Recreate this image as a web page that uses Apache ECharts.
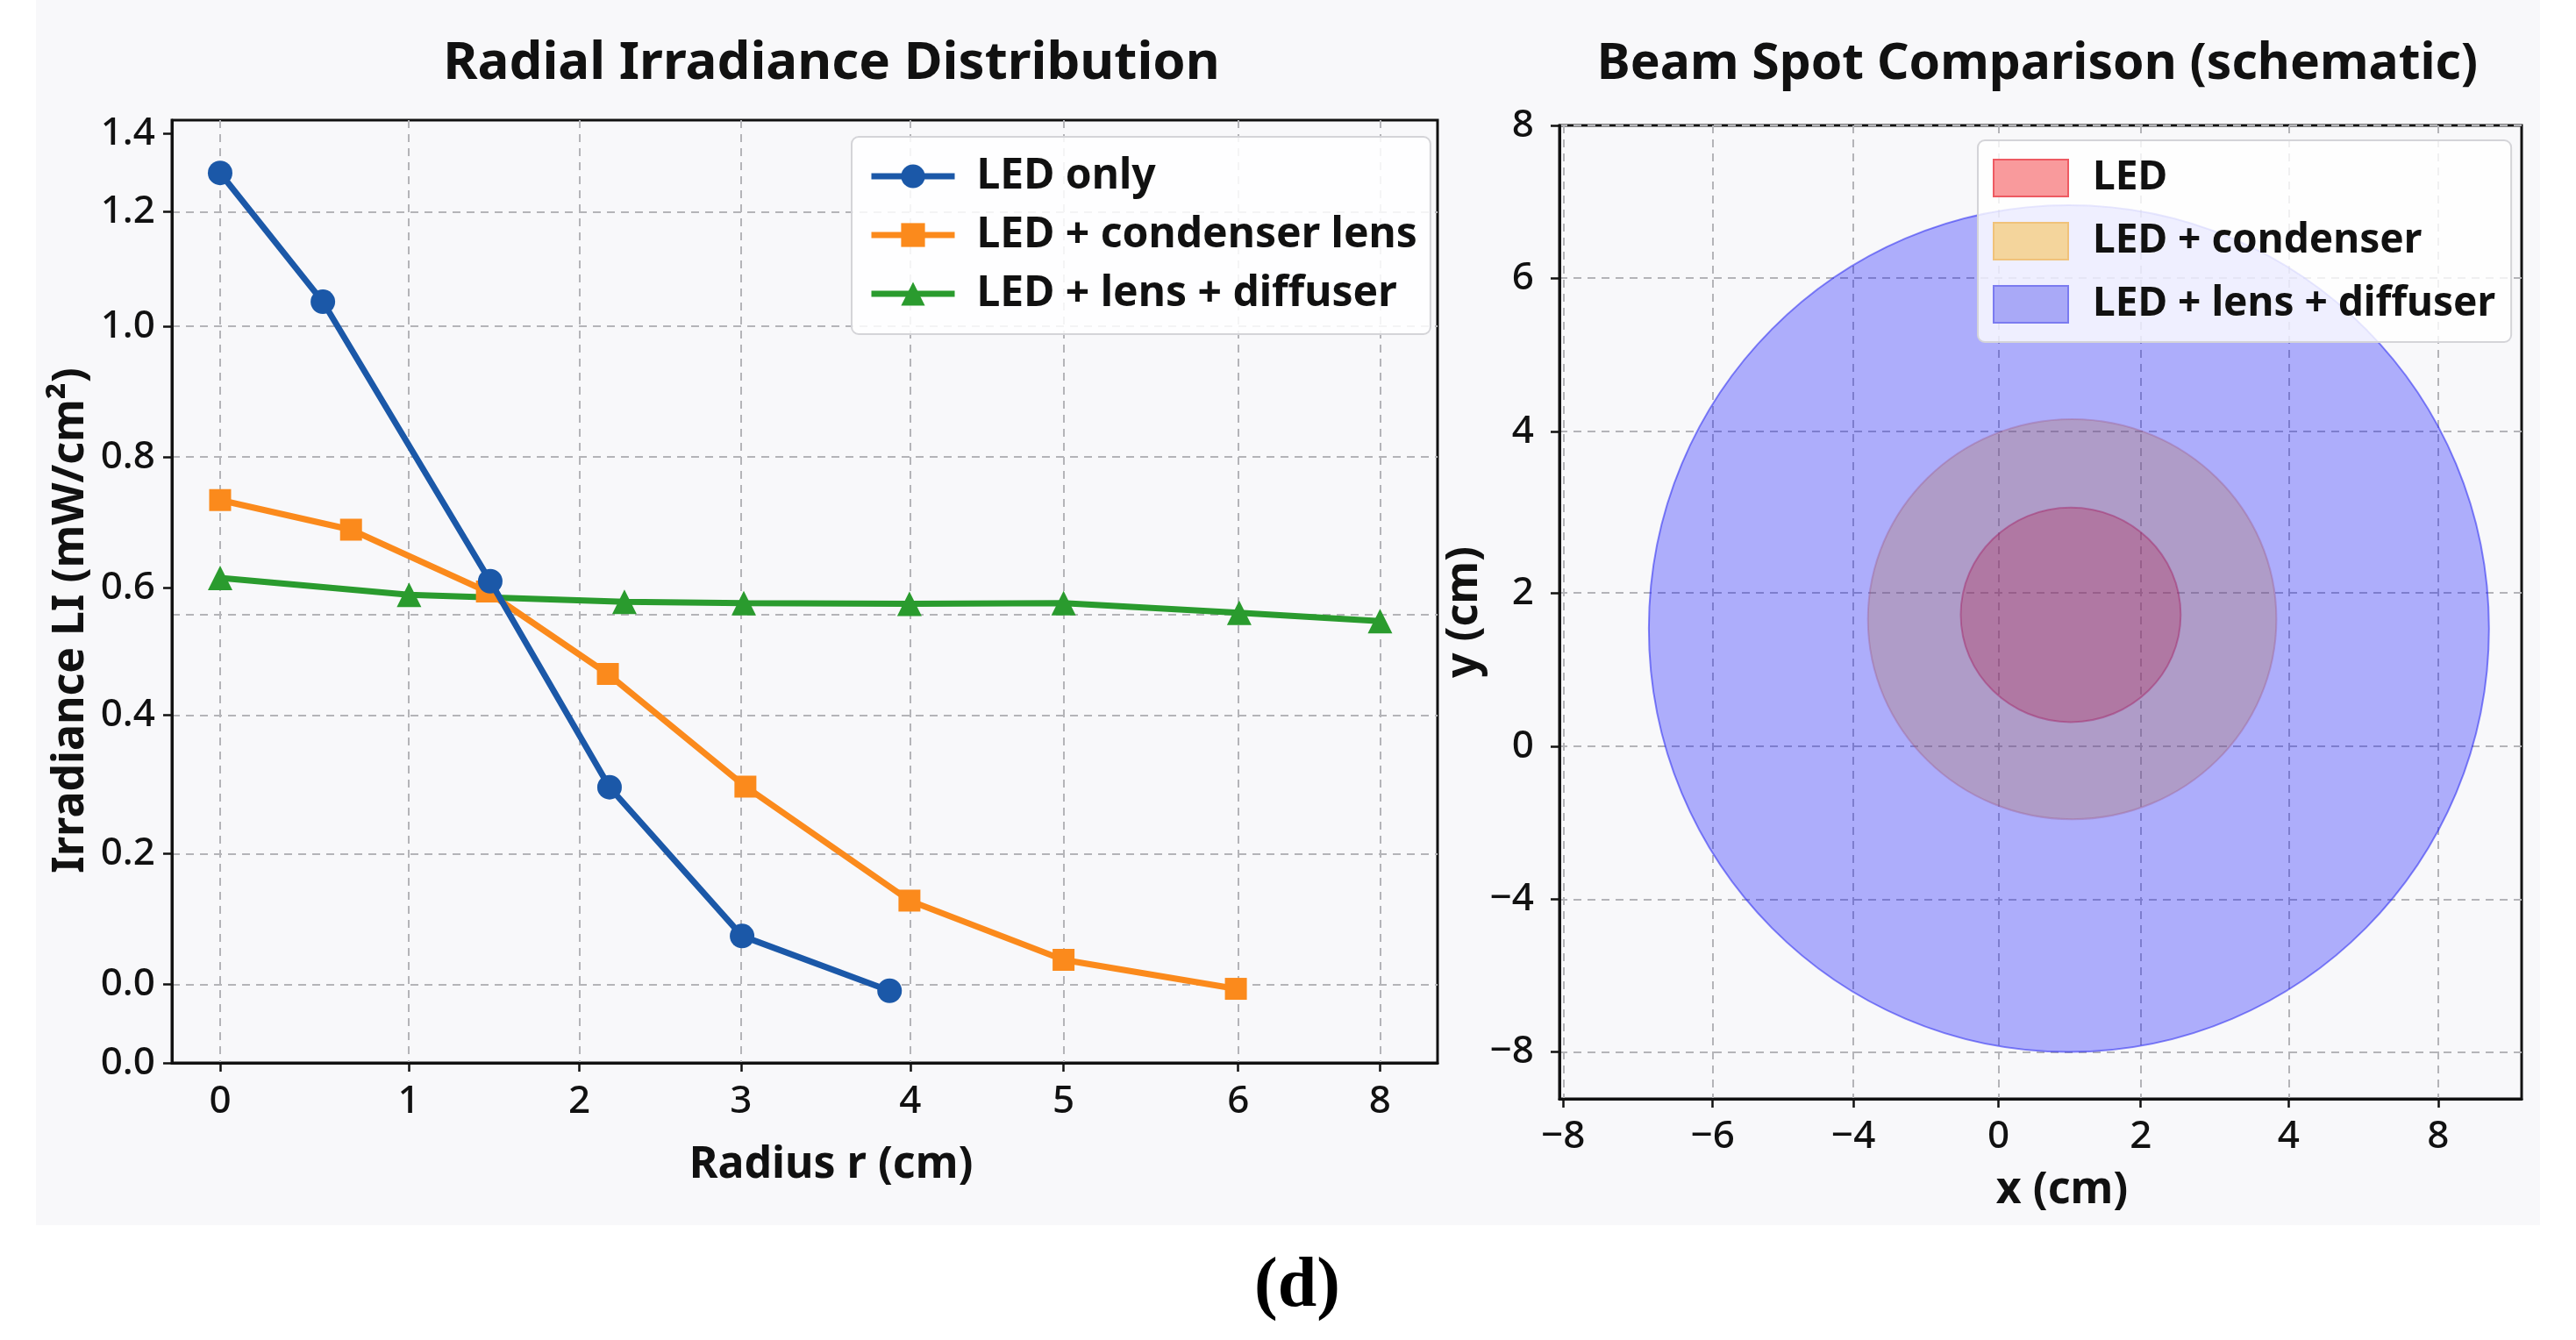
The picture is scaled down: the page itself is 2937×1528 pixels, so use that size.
<!DOCTYPE html>
<html>
<head>
<meta charset="utf-8">
<title>Radial irradiance / beam spot</title>
<script src="https://cdn.jsdelivr.net/npm/echarts@6.0.0/dist/echarts.min.js"></script>
<style>
  html, body { margin: 0; padding: 0; background: #ffffff; }
  #wrap { position: relative; width: 2937px; height: 1528px; }
  #paper { position: absolute; left: 41px; top: 0; width: 2855px; height: 1397px; background: #f8f8fa; }
  #main { position: absolute; left: 0; top: 0; width: 2937px; height: 1528px; }
</style>
</head>
<body>
<div id="wrap">
  <div id="paper"></div>
  <div id="main"></div>
</div>
<script>
// left panel: radial irradiance, values read in axis position units
// (the printed tick labels are not evenly spaced, so ticks sit at their own positions)
var radTickPos = [0, 1.138, 2.168, 3.143, 4.165, 5.09, 6.144, 7.0];
var radTickText = ['0', '1', '2', '3', '4', '5', '6', '8'];
var irrTickPos = [-0.122, 0, 0.203, 0.418, 0.616, 0.819, 1.022, 1.2, 1.321];
var irrTickText = ['0.0', '0.0', '0.2', '0.4', '0.6', '0.8', '1.0', '1.2', '1.4'];
var irrGridPos = [0, 0.203, 0.418, 0.574, 0.819, 1.022, 1.2];

var ledOnlyX = [0, 0.62, 1.63, 2.35, 3.15, 4.04];
var ledOnlyY = [1.26, 1.06, 0.626, 0.306, 0.075, -0.01];
var condX = [0, 0.79, 1.61, 2.34, 3.17, 4.16, 5.09, 6.13];
var condY = [0.752, 0.706, 0.61, 0.482, 0.307, 0.13, 0.038, -0.007];
var diffX = [0, 1.14, 2.44, 3.16, 4.16, 5.09, 6.15, 7.0];
var diffY = [0.631, 0.605, 0.594, 0.592, 0.591, 0.592, 0.577, 0.564];

// right panel: beam spots, centre x/y and half widths in axis position units
var spotNames = ['LED', 'LED + condenser', 'LED + lens + diffuser'];
var spotCx = [0.995, 1.015, 0.97];
var spotCy = [1.687, 1.631, 1.511];
var spotRx = [1.516, 2.815, 5.79];
var spotRy = [1.374, 2.563, 5.423];
var spotXTickPos = [-6.0, -3.941, -2.001, 0, 1.96, 3.999, 6.06];
var spotXTickText = ['\u22128', '\u22126', '\u22124', '0', '2', '4', '8'];
var spotYTickPos = [-3.91, -1.955, 0, 1.966, 4.034, 6.0, 7.956];
var spotYTickText = ['\u22128', '\u22124', '0', '2', '4', '6', '8'];

var FONT = '"Noto Sans", "DejaVu Sans", sans-serif';

function zipXY(xs, ys) {
    var out = [];
    for (var i = 0; i < xs.length; i++) {
        out.push([xs[i], ys[i]]);
    }
    return out;
}

// label for the tick nearest to v
function pickLabel(pos, text) {
    return function (v) {
        var best = 0;
        for (var i = 1; i < pos.length; i++) {
            if (Math.abs(pos[i] - v) < Math.abs(pos[best] - v)) best = i;
        }
        return text[best];
    };
}

var dashGrid = {
    show: true,
    lineStyle: { color: '#b4b4b8', width: 2, type: [9, 7] }
};
var tickStyle = { show: true, inside: false, length: 10, lineStyle: { color: '#111', width: 2.5 } };
var spineStyle = { show: true, onZero: false, lineStyle: { color: '#111', width: 3 } };
var tickFont = { color: '#111', fontFamily: FONT, fontSize: 44, fontWeight: 500 };
var nameFont = { color: '#111', fontFamily: FONT, fontSize: 50, fontWeight: 'bold' };

var lineColors = ['#1b58a8', '#fb8a1c', '#2a9b2e'];
var spotFill = ['rgba(255,0,0,0.3)', 'rgba(255,165,0,0.3)', 'rgba(0,0,255,0.3)'];
var spotEdge = ['rgba(220,0,60,0.45)', 'rgba(220,120,80,0.35)', 'rgba(40,40,240,0.55)'];
var spotLegend = ['#f99a9c', '#f4d59c', '#a9a9f7'];
var spotLegendEdge = ['#ee5a62', '#f0c27a', '#7b7bf0'];

function spotSeries(k) {
    return {
        name: spotNames[k],
        type: 'custom',
        xAxisIndex: 1,
        yAxisIndex: 2,
        clip: true,
        z: 2,
        itemStyle: { color: spotLegend[k], borderColor: spotLegendEdge[k], borderWidth: 2 },
        renderItem: function (params, api) {
            var c = api.coord([api.value(0), api.value(1)]);
            var s = api.size([api.value(2), api.value(3)]);
            return {
                type: 'ellipse',
                shape: { cx: c[0], cy: c[1], rx: s[0], ry: s[1] },
                style: { fill: spotFill[k], stroke: spotEdge[k], lineWidth: 2 }
            };
        },
        data: [[spotCx[k], spotCy[k], spotRx[k], spotRy[k]]]
    };
}

var legendText = { fontFamily: FONT, fontWeight: 'bold', color: '#111', lineHeight: 48 };

var chart = echarts.init(document.getElementById('main'), null, { renderer: 'canvas' });

var option = {
    animation: false,
    textStyle: { fontFamily: FONT },
    title: [{
        text: 'Radial Irradiance Distribution',
        left: 943,
        top: 38,
        textAlign: 'center',
        textStyle: { fontFamily: FONT, fontSize: 60, fontWeight: 'bold', color: '#111' }
    }, {
        text: 'Beam Spot Comparison (schematic)',
        left: 2318,
        top: 40,
        textAlign: 'center',
        textStyle: { fontFamily: FONT, fontSize: 57, fontWeight: 'bold', color: '#111' }
    }],
    legend: [{
        z: 10,
        data: ['LED only', 'LED + condenser lens', 'LED + lens + diffuser'].map(function (n, i) {
            return { name: n, lineStyle: { color: lineColors[i], width: 7 }, textStyle: { color: '#111' } };
        }),
        orient: 'vertical',
        left: 971,
        top: 156,
        padding: [21, 15, 22, 19],
        itemGap: 19,
        itemWidth: 95,
        itemHeight: 34,
        backgroundColor: 'rgba(255,255,255,0.85)',
        borderColor: '#d4d4d8',
        borderWidth: 2,
        borderRadius: 8,
        textStyle: Object.assign({ fontSize: 48, padding: [0, 0, 0, 20] }, legendText)
    }, {
        z: 10,
        data: spotNames.map(function (n, i) {
            return {
                name: n,
                icon: 'rect',
                itemStyle: { color: spotLegend[i], borderColor: spotLegendEdge[i], borderWidth: 2 },
                textStyle: { color: '#111' }
            };
        }),
        orient: 'vertical',
        left: 2255,
        top: 160,
        padding: [19, 18, 19, 17],
        itemGap: 24,
        itemWidth: 85,
        itemHeight: 42,
        backgroundColor: 'rgba(255,255,255,0.8)',
        borderColor: '#d4d4d8',
        borderWidth: 2,
        borderRadius: 8,
        textStyle: Object.assign({ fontSize: 46, padding: [0, 0, 0, 23] }, legendText)
    }],
    grid: [{
        left: 196, top: 137, right: 1298, bottom: 316,
        show: true, borderColor: '#111', borderWidth: 3, backgroundColor: 'transparent',
        containLabel: false, outerBoundsMode: 'none'
    }, {
        left: 1778, top: 143, right: 62, bottom: 275,
        show: true, borderColor: '#111', borderWidth: 3, backgroundColor: 'transparent',
        containLabel: false, outerBoundsMode: 'none'
    }],
    xAxis: [{
        gridIndex: 0,
        type: 'value',
        min: -0.291,
        max: 7.347,
        axisLine: spineStyle,
        axisTick: Object.assign({ customValues: radTickPos }, tickStyle),
        axisLabel: Object.assign({ customValues: radTickPos, margin: 22, formatter: pickLabel(radTickPos, radTickText) }, tickFont),
        splitLine: dashGrid,
        name: 'Radius r (cm)',
        nameLocation: 'middle',
        nameGap: 92,
        nameTextStyle: Object.assign({ padding: [0, 0, 0, 60] }, nameFont)
    }, {
        gridIndex: 1,
        type: 'value',
        min: -6.052,
        max: 7.21,
        axisLine: spineStyle,
        axisTick: Object.assign({ customValues: spotXTickPos }, tickStyle),
        axisLabel: Object.assign({ customValues: spotXTickPos, margin: 21, formatter: pickLabel(spotXTickPos, spotXTickText) }, tickFont),
        splitLine: dashGrid,
        name: 'x (cm)',
        nameLocation: 'middle',
        nameGap: 80,
        nameTextStyle: Object.assign({ padding: [0, 0, 0, 49] }, nameFont)
    }],
    yAxis: [{
        gridIndex: 0,
        type: 'value',
        min: -0.122,
        max: 1.342,
        axisLine: spineStyle,
        axisTick: Object.assign({ customValues: irrTickPos }, tickStyle),
        axisLabel: Object.assign({ customValues: irrTickPos, margin: 19, formatter: pickLabel(irrTickPos, irrTickText) }, tickFont),
        splitLine: { show: false },
        name: 'Irradiance LI (mW/cm\u00b2)',
        nameLocation: 'middle',
        nameGap: 90,
        nameTextStyle: Object.assign({ padding: [0, 66, 0, 0] }, nameFont)
    }, {
        // grid lines of the left panel (not at every labelled tick)
        gridIndex: 0,
        type: 'value',
        position: 'right',
        min: -0.122,
        max: 1.342,
        axisLine: { show: false },
        axisTick: { show: false, customValues: irrGridPos },
        axisLabel: { show: false },
        splitLine: dashGrid
    }, {
        gridIndex: 1,
        type: 'value',
        min: -4.513,
        max: 7.956,
        axisLine: spineStyle,
        axisTick: Object.assign({ customValues: spotYTickPos }, tickStyle),
        axisLabel: Object.assign({ customValues: spotYTickPos, margin: 29, formatter: pickLabel(spotYTickPos, spotYTickText) }, tickFont),
        splitLine: dashGrid,
        name: 'y (cm)',
        nameLocation: 'middle',
        nameGap: 63,
        nameTextStyle: nameFont
    }],
    series: [{
        name: 'LED only',
        type: 'line',
        xAxisIndex: 0,
        yAxisIndex: 0,
        data: zipXY(ledOnlyX, ledOnlyY),
        symbol: 'circle',
        symbolSize: 28,
        color: lineColors[0],
        lineStyle: { width: 7 },
        z: 4
    }, {
        name: 'LED + condenser lens',
        type: 'line',
        xAxisIndex: 0,
        yAxisIndex: 0,
        data: zipXY(condX, condY),
        symbol: 'rect',
        symbolSize: 25,
        color: lineColors[1],
        lineStyle: { width: 7 },
        z: 3
    }, {
        name: 'LED + lens + diffuser',
        type: 'line',
        xAxisIndex: 0,
        yAxisIndex: 0,
        data: zipXY(diffX, diffY),
        symbol: 'triangle',
        symbolSize: 28,
        color: lineColors[2],
        lineStyle: { width: 7 },
        z: 2
    }, spotSeries(0), spotSeries(1), spotSeries(2)],
    graphic: [{
        type: 'text',
        left: 1430,
        top: 1428,
        style: {
            text: '(d)',
            fontFamily: '"Liberation Serif", "DejaVu Serif", serif',
            fontSize: 80,
            fontWeight: 'bold',
            fill: '#000'
        }
    }]
};

chart.setOption(option);
</script>
</body>
</html>
